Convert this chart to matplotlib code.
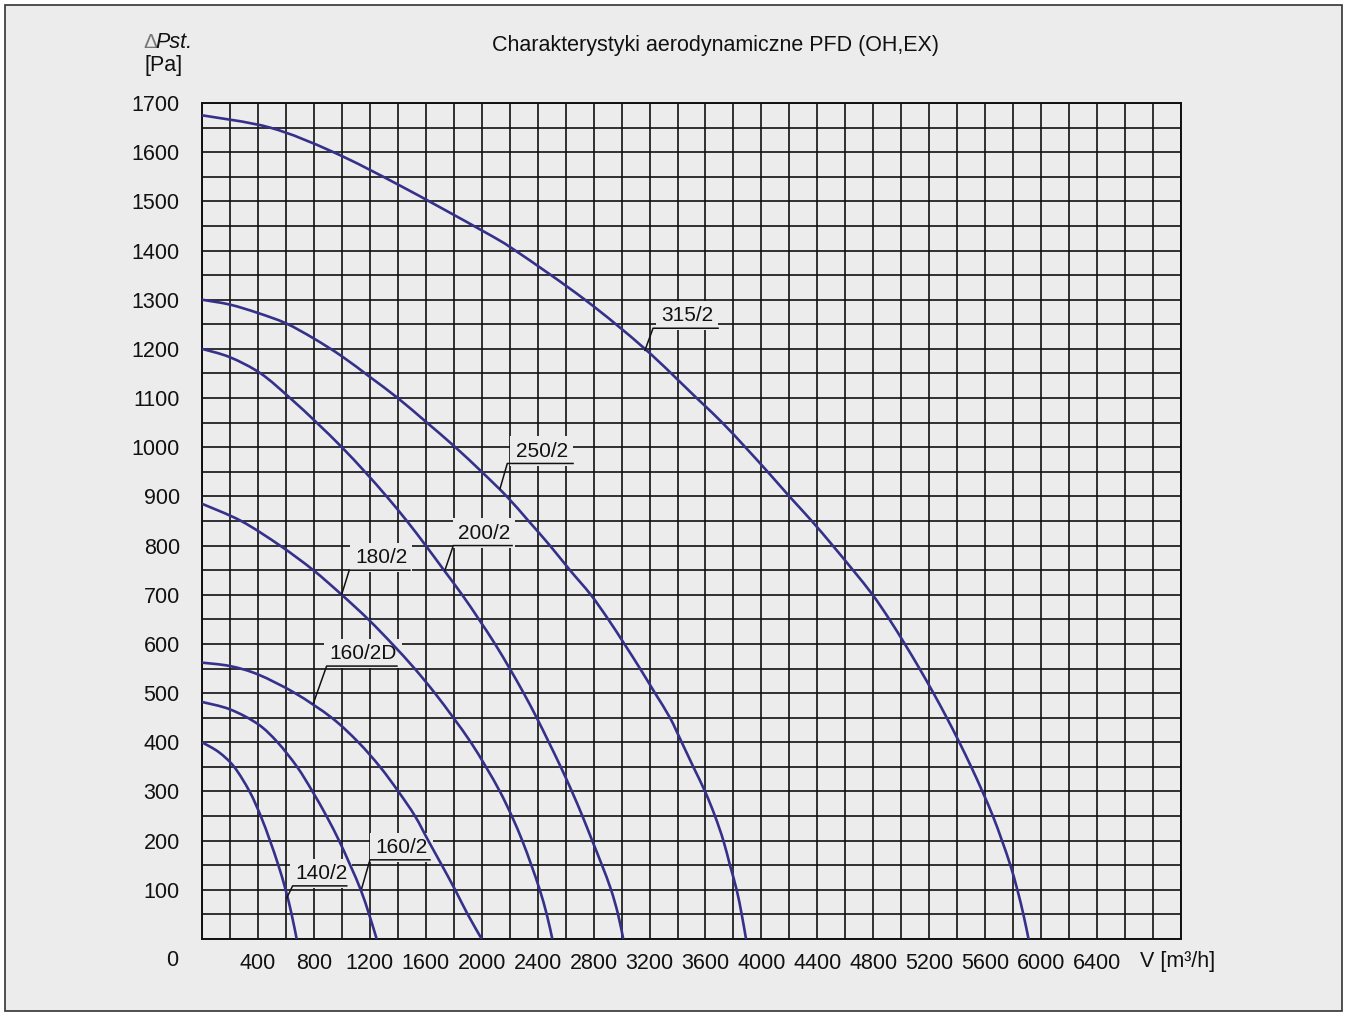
import numpy as np
import matplotlib
matplotlib.use("Agg")
import matplotlib.pyplot as plt
from matplotlib.patches import Rectangle, PathPatch
from matplotlib.path import Path

plt.rcParams['font.family'] = ['Liberation Sans', 'DejaVu Sans']

BG = '#ebeceb'
CURVE = '#35318a'
INK = '#111111'

# fan curves: flow V [m3/h] vs static pressure [Pa]
v140 = [0, 120, 230, 340, 420, 486, 546, 598, 641, 677]
p140 = [400, 380, 350, 300, 250, 200, 150, 100, 50, 0]

v160 = [0, 200, 400, 540, 680, 790, 890, 980, 1060, 1135, 1195, 1249]
p160 = [482, 467, 437, 400, 350, 300, 250, 200, 150, 100, 50, 0]

v160d = [0, 200, 400, 665, 927, 1118, 1273, 1404, 1523, 1618, 1715, 1810, 1900, 2000]
p160d = [562, 555, 538, 500, 450, 400, 350, 300, 250, 200, 150, 100, 50, 0]

v180 = [0, 280, 558, 796, 999, 1189, 1360, 1520, 1665, 1797, 1922, 2030, 2130,
        2215, 2290, 2355, 2415, 2465, 2505]
p180 = [885, 850, 800, 750, 700, 650, 600, 550, 500, 450, 400, 350, 300,
        250, 200, 150, 100, 50, 0]

v200 = [0, 200, 420, 630, 820, 1000, 1165, 1320, 1465, 1600, 1730, 1860, 1980,
        2095, 2200, 2300, 2393, 2480, 2565, 2645, 2720, 2790, 2860, 2925, 2975, 3012]
p200 = [1200, 1183, 1150, 1100, 1050, 1000, 950, 900, 850, 800, 750, 700, 650,
        600, 550, 500, 450, 400, 350, 300, 250, 200, 150, 100, 50, 0]

v250 = [0, 200, 400, 600, 800, 1000, 1200, 1400, 1600, 1800, 2000, 2179, 2335,
        2488, 2631, 2780, 2905, 3020, 3132, 3239, 3346, 3430, 3513, 3597, 3668,
        3728, 3775, 3823, 3859, 3890]
p250 = [1300, 1290, 1273, 1252, 1221, 1185, 1143, 1100, 1052, 1003, 950, 900, 850,
        800, 750, 700, 650, 600, 550, 500, 450, 400, 350, 300, 250,
        200, 150, 100, 50, 0]

v315 = [0, 486, 940, 1416, 2000, 2240, 2738, 3167, 3537, 3720, 3885, 4045, 4200,
        4360, 4510, 4655, 4795, 4915, 5025, 5130, 5230, 5325, 5415, 5500, 5580,
        5655, 5720, 5780, 5830, 5873, 5910]
p315 = [1675, 1650, 1600, 1532, 1441, 1400, 1300, 1200, 1100, 1050, 1000, 950, 900,
        850, 800, 750, 700, 650, 600, 550, 500, 450, 400, 350, 300,
        250, 200, 150, 100, 50, 0]

curves = [(v140, p140), (v160, p160), (v160d, p160d), (v180, p180),
          (v200, p200), (v250, p250), (v315, p315)]

# label callouts: name, point on curve, knee, end of underline (V)
names = ["140/2", "160/2", "160/2D", "180/2", "200/2", "250/2", "315/2"]
tips = [(605, 83), (1142, 103), (796, 479), (999, 701), (1737, 750), (2131, 916), (3167, 1197)]
knees = [(648, 108), (1201, 161), (891, 555), (1053, 750), (1797, 800), (2183, 967), (3225, 1242)]
ends = [1035, 1630, 1394, 1487, 2217, 2653, 3690]

x_ticks = np.arange(0, 7001, 200)
x_labels = [str(t) if (t % 400 == 0 and 0 < t <= 6400) else '' for t in x_ticks]
y_ticks = np.arange(0, 1701, 50)
y_labels = [str(t) if (t % 100 == 0 and t > 0) else '' for t in y_ticks]


def smooth_path(v, p):
    # draw a smooth line through the read points (Catmull-Rom as Bezier pieces)
    pts = np.column_stack([v, p]).astype(float)
    ext = np.vstack([pts[0], pts, pts[-1]])
    verts = [pts[0]]
    codes = [Path.MOVETO]
    for i in range(1, len(ext) - 2):
        p0, p1, p2, p3 = ext[i - 1], ext[i], ext[i + 1], ext[i + 2]
        verts += [p1 + (p2 - p0) / 6, p2 - (p3 - p1) / 6, p2]
        codes += [Path.CURVE4] * 3
    return Path(verts, codes)


W, H = 1345, 1014
fig = plt.figure(figsize=(W / 100, H / 100), dpi=100, facecolor='white')
fig.patches.append(Rectangle((5 / W, 3 / H), 1337 / W, 1006 / H, transform=fig.transFigure,
                             facecolor=BG, edgecolor='#333333', linewidth=1.2, zorder=-10))

ax = fig.add_axes([202 / W, 1 - 939 / H, (1181 - 202) / W, (939 - 103) / H])
ax.set_facecolor(BG)
ax.set_xlim(0, 7000)
ax.set_ylim(0, 1700)
ax.set_xticks(x_ticks)
ax.set_xticklabels(x_labels)
ax.set_yticks(y_ticks)
ax.set_yticklabels(y_labels)
ax.tick_params(length=0, labelsize=15.5, colors=INK)
ax.tick_params(axis='x', pad=10)
ax.tick_params(axis='y', pad=16)
ax.grid(True, color=INK, linewidth=1.2)
ax.set_axisbelow(True)
for s in ax.spines.values():
    s.set_color(INK)
    s.set_linewidth(1.4)

for v, p in curves:
    ax.add_patch(PathPatch(smooth_path(v, p), facecolor='none', edgecolor=CURVE,
                           linewidth=1.9, zorder=3))

for name, tip, knee, end in zip(names, tips, knees, ends):
    ax.plot([tip[0], knee[0], end], [tip[1], knee[1], knee[1]], color=INK,
            linewidth=1.1, zorder=4)
    ax.text((knee[0] + end) / 2 + 10, knee[1] + 6, name, ha='center', va='bottom',
            fontsize=15, color=INK, zorder=2.5,
            bbox=dict(boxstyle='square,pad=0.25', facecolor=BG, edgecolor='none'))

fig.text(716 / W, 1 - 45 / H, "Charakterystyki aerodynamiczne PFD (OH,EX)",
         ha='center', va='center', fontsize=15.5, color=INK)
fig.text(143 / W, 1 - 43 / H, "\u0394", ha='left', va='center', fontsize=15, color='#777777')
fig.text(155 / W, 1 - 43 / H, "Pst.", ha='left', va='center', fontsize=15.5,
         style='italic', color=INK)
fig.text(145 / W, 1 - 66 / H, "[Pa]", ha='left', va='center', fontsize=15.5, color=INK)
fig.text(172 / W, 1 - 961 / H, "0", ha='center', va='center', fontsize=15.5, color=INK)
fig.text(1140 / W, 1 - 961 / H, "V [m\u00b3/h]", ha='left', va='center', fontsize=15.5, color=INK)

fig.savefig("out.png", dpi=100, facecolor=fig.get_facecolor())
